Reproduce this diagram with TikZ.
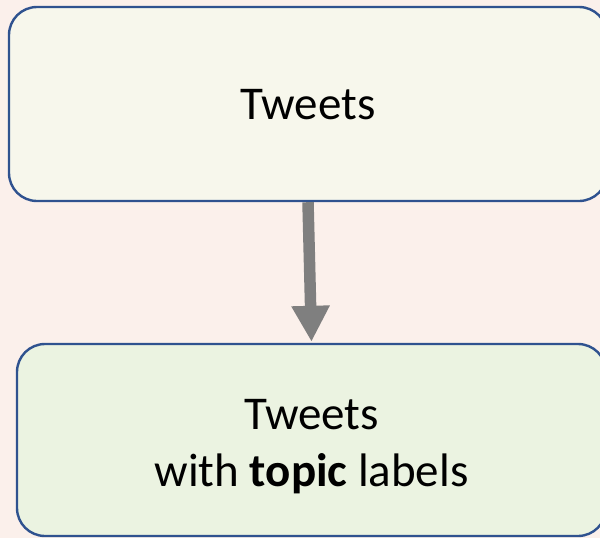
\documentclass[tikz,border=0pt]{standalone}
\usepackage{fontspec}
\setmainfont{Carlito}
\usetikzlibrary{arrows.meta}
\definecolor{pagebg}{HTML}{FBF0EB}
\definecolor{boxline}{HTML}{2F528F}
\definecolor{rawfill}{HTML}{F7F7EC}
\definecolor{labfill}{HTML}{EBF3E1}
\definecolor{flowgray}{HTML}{7F7F7F}
\begin{document}
\begin{tikzpicture}[x=1pt,y=-1pt,
  stagebox/.style={draw=boxline, line width=2.4pt, rounded corners=28pt,
    inner sep=0pt},
  stagetext/.style={align=center, inner sep=0pt, text=black,
    font=\fontsize{47}{57}\selectfont},
  flow/.style={draw=flowgray, line width=11.5pt,
    -{Triangle[width=36pt,length=36pt]}, shorten >=1pt}]
  \useasboundingbox (0,0) rectangle (600,538);
  \fill[pagebg] (0,0) rectangle (600,538);
  % raw tweets
  \node[stagebox, fill=rawfill, minimum width=598pt, minimum height=194pt]
    (raw) at (308,104) {};
  \node[stagetext] (rawtext) at ([yshift=-1pt]raw.center) {Tweets};
  % labelled tweets
  \node[stagebox, fill=labfill, minimum width=589pt, minimum height=192pt]
    (lab) at (311.5,440) {};
  \node[stagetext] (labtext) at ([yshift=-7pt]lab.center)
    {Tweets\\with \textbf{topic} labels};
  \draw[flow] (raw.south) -- (lab.north);
\end{tikzpicture}
\end{document}
